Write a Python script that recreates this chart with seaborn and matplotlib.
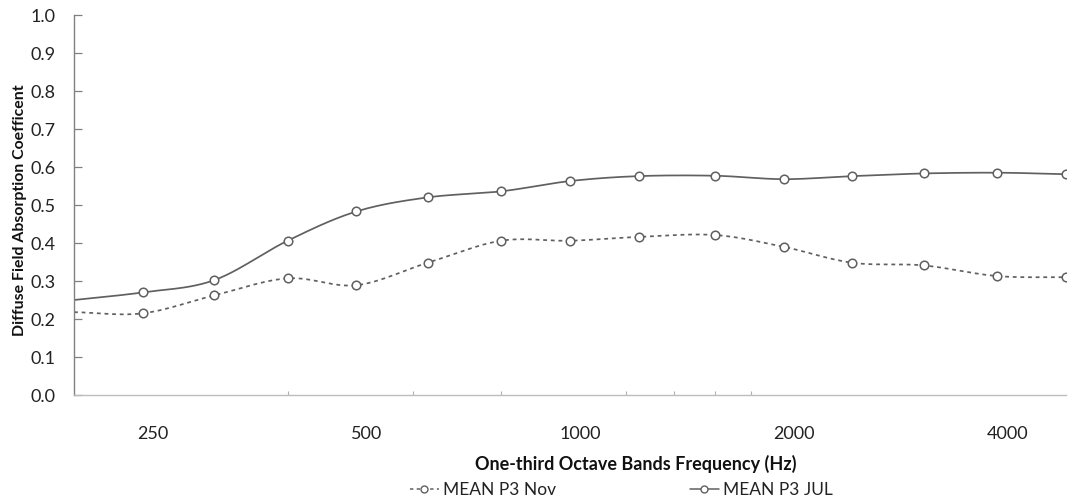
import numpy as np
import pandas as pd
import matplotlib
matplotlib.use("Agg")
import matplotlib.pyplot as plt
import matplotlib.transforms as mtrans
from matplotlib.lines import Line2D
import seaborn as sns

# One-third octave band centre frequencies (Hz) and mean absorption coefficients
freq_hz = [200, 250, 315, 400, 500, 630, 800, 1000, 1250, 1600, 2000, 2500, 3150, 4000, 5000]
mean_p3_nov = [0.218, 0.215, 0.262, 0.307, 0.289, 0.348, 0.406, 0.406, 0.416, 0.421,
               0.390, 0.348, 0.341, 0.313, 0.310]
mean_p3_jul = [0.250, 0.270, 0.302, 0.406, 0.483, 0.520, 0.536, 0.563, 0.576, 0.577,
               0.568, 0.576, 0.583, 0.585, 0.581]
series_names = ["MEAN P3 Nov", "MEAN P3 JUL"]

x_tick_values = [250, 500, 1000, 2000, 4000]
x_tick_labels = ["250", "500", "1000", "2000", "4000"]
x_minor_marks = [400, 600, 800, 1000, 1200, 1400, 1600, 1800, 2000, 4000]
y_ticks = np.round(np.arange(0, 1.01, 0.1), 1)

sns.set_theme(style="white")
plt.rcParams["font.family"] = ["Lato", "DejaVu Sans"]

GREY = "#606060"
FS = 13


def smooth_curve(x, y, n=24):
    """Cardinal (Catmull-Rom) smoothing in log-frequency space."""
    lx = np.log2(np.asarray(x, float))
    y = np.asarray(y, float)
    pts = np.column_stack([lx, y])
    m = len(pts)
    tang = np.zeros_like(pts)
    tang[1:-1] = (pts[2:] - pts[:-2]) / 2.0
    tang[0] = pts[1] - pts[0]
    tang[-1] = pts[-1] - pts[-2]
    out = []
    t = np.linspace(0, 1, n, endpoint=False)[:, None]
    h00 = 2 * t**3 - 3 * t**2 + 1
    h10 = t**3 - 2 * t**2 + t
    h01 = -2 * t**3 + 3 * t**2
    h11 = t**3 - t**2
    for i in range(m - 1):
        seg = h00 * pts[i] + h10 * tang[i] + h01 * pts[i + 1] + h11 * tang[i + 1]
        out.append(seg)
    out.append(pts[-1:])
    out = np.vstack(out)
    return 2 ** out[:, 0], out[:, 1]


fig = plt.figure(figsize=(10.7, 5.0), dpi=100)
ax = fig.add_axes([74 / 1070, 1 - 395 / 500, (1066 - 74) / 1070, 380 / 500])

styles = {"MEAN P3 Nov": (0, (2.2, 2.2)), "MEAN P3 JUL": "-"}
handles = []
for name, vals in zip(series_names, [mean_p3_nov, mean_p3_jul]):
    sx, sy = smooth_curve(freq_hz, vals)
    curve = pd.DataFrame({"freq": sx, "alpha": sy})
    sns.lineplot(data=curve, x="freq", y="alpha", ax=ax, color=GREY,
                 linewidth=1.25, linestyle=styles[name], sort=False,
                 estimator=None, legend=False)
    pts = pd.DataFrame({"freq": freq_hz[1:], "alpha": vals[1:]})
    sns.scatterplot(data=pts, x="freq", y="alpha", ax=ax, marker="o", s=38,
                    facecolor="white", edgecolor=GREY, linewidth=1.1,
                    zorder=3, legend=False)
    handles.append(Line2D([], [], color=GREY, linestyle=styles[name], linewidth=1.1,
                          marker="o", markersize=5, markerfacecolor="white",
                          markeredgecolor=GREY, markeredgewidth=1.0, label=name))

ax.set_xscale("log")
ax.set_xlim(200, 5000)
ax.set_ylim(0, 1.0)

ax.set_xticks(x_tick_values)
ax.set_xticklabels(x_tick_labels)
ax.set_xticks(x_minor_marks, minor=True)
ax.xaxis.set_minor_formatter(matplotlib.ticker.NullFormatter())
ax.tick_params(axis="x", which="major", length=0, pad=22, labelsize=FS, labelcolor="#222222")
ax.tick_params(axis="x", which="minor", direction="in", length=3, width=0.8, color="#b0b0b0",
               bottom=True)
for lab in ax.get_xticklabels():
    lab.set_transform(lab.get_transform() + mtrans.ScaledTranslation(0.10, 0, fig.dpi_scale_trans))

ax.set_yticks(y_ticks)
ax.set_yticklabels([f"{v:.1f}" for v in y_ticks])
ax.tick_params(axis="y", direction="in", length=6, width=0.9, color="#808080",
               left=True, pad=13, labelsize=FS, labelcolor="#222222")

for side in ["top", "right"]:
    ax.spines[side].set_visible(False)
ax.spines["left"].set_color("#808080")
ax.spines["left"].set_linewidth(1.0)
ax.spines["bottom"].set_color("#bdbdbd")
ax.spines["bottom"].set_linewidth(1.0)
ax.grid(False)

ax.set_xlabel("One-third Octave Bands Frequency (Hz)", fontsize=FS, fontweight="bold",
              color="#111111")
ax.xaxis.set_label_coords((636 - 74) / 992, (395 - 455) / 380)
ax.set_ylabel("Diffuse Field Absorption Coefficent", fontsize=11.4, fontweight="bold",
              color="#111111")
ax.yaxis.set_label_coords((27 - 74) / 992, (395 - 210) / 380)

fig.legend(handles=handles, loc="center", bbox_to_anchor=(621 / 1070, 1 - 490 / 500),
           ncol=2, frameon=False, fontsize=12.5, handlelength=1.7, handletextpad=0.2,
           columnspacing=7.7, labelcolor="#222222")

fig.savefig("out.png", dpi=100, facecolor="white")
